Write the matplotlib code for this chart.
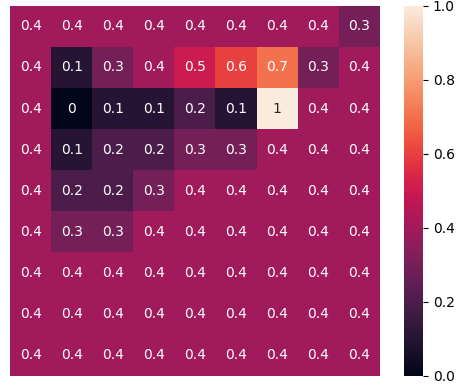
import numpy as np
import seaborn as sns
from matplotlib import pyplot as plt

# grid values (rows top to bottom)
row0 = [0.4, 0.4, 0.4, 0.4, 0.4, 0.4, 0.4, 0.4, 0.3]
row1 = [0.4, 0.1, 0.3, 0.4, 0.5, 0.6, 0.7, 0.3, 0.4]
row2 = [0.4, 0.0, 0.1, 0.1, 0.2, 0.1, 1.0, 0.4, 0.4]
row3 = [0.4, 0.1, 0.2, 0.2, 0.3, 0.3, 0.4, 0.4, 0.4]
row4 = [0.4, 0.2, 0.2, 0.3, 0.4, 0.4, 0.4, 0.4, 0.4]
row5 = [0.4, 0.3, 0.3, 0.4, 0.4, 0.4, 0.4, 0.4, 0.4]
row6 = [0.4, 0.4, 0.4, 0.4, 0.4, 0.4, 0.4, 0.4, 0.4]
row7 = [0.4, 0.4, 0.4, 0.4, 0.4, 0.4, 0.4, 0.4, 0.4]
row8 = [0.4, 0.4, 0.4, 0.4, 0.4, 0.4, 0.4, 0.4, 0.4]

grid = np.array([row0, row1, row2, row3, row4, row5, row6, row7, row8])

fig = plt.figure(figsize=(4.64, 3.89), dpi=100)
ax = fig.add_axes([0.0216, 0.034, 0.797, 0.951])
cax = fig.add_axes([0.871, 0.034, 0.041, 0.951])

sns.heatmap(grid, ax=ax, cbar_ax=cax, annot=True,
            xticklabels=False, yticklabels=False)

fig.savefig('out.png', dpi=100)
